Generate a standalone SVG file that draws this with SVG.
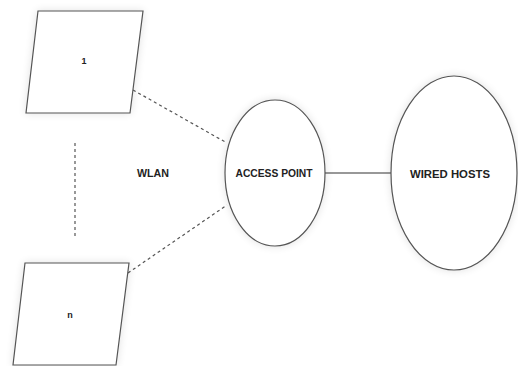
<svg xmlns="http://www.w3.org/2000/svg" width="518" height="366" viewBox="0 0 518 366">
<defs>
<filter id="sh" x="-20%" y="-20%" width="140%" height="140%">
<feGaussianBlur in="SourceAlpha" stdDeviation="4"/>
<feComponentTransfer><feFuncA type="linear" slope="0.12"/></feComponentTransfer>
<feMerge><feMergeNode/><feMergeNode in="SourceGraphic"/></feMerge>
</filter>
</defs>
<style>
.shape{fill:#fff;stroke:#555;stroke-width:1.2;filter:url(#sh)}
.lbl{font-family:"Liberation Sans",Arial,sans-serif;font-weight:bold;fill:#222;text-anchor:middle;dominant-baseline:central}
.dash{stroke:#555;stroke-width:1.2;fill:none;stroke-dasharray:3,3}
.solid{stroke:#333;stroke-width:1.2;fill:none}
</style>
<rect width="518" height="366" fill="#fff"/>
<g id="connectors">
<line class="dash" x1="133" y1="90" x2="227" y2="143"/>
<line class="dash" x1="128" y1="273" x2="227" y2="205"/>
<line class="dash" x1="75" y1="143" x2="75" y2="237" stroke-dasharray="2,4"/>
<line class="solid" x1="325" y1="173" x2="391" y2="173"/>
</g>
<g id="node-1">
<polygon class="shape" points="38,11 143,11 130,113 26,113"/>
<text class="lbl" x="84" y="61" font-size="9" font-weight="normal">1</text>
</g>
<g id="node-n">
<polygon class="shape" points="25,263 129,263 116,365 13,365"/>
<text class="lbl" x="70" y="315" font-size="9" font-weight="normal">n</text>
</g>
<g id="wlan">
<text class="lbl" x="153" y="173" font-size="10" textLength="32" lengthAdjust="spacingAndGlyphs">WLAN</text>
</g>
<g id="access-point">
<ellipse class="shape" cx="275" cy="173" rx="50" ry="73"/>
<text class="lbl" x="274" y="173" font-size="11" textLength="77" lengthAdjust="spacingAndGlyphs">ACCESS POINT</text>
</g>
<g id="wired-hosts">
<ellipse class="shape" cx="454" cy="173" rx="63" ry="97"/>
<text class="lbl" x="450" y="174" font-size="11" textLength="80" lengthAdjust="spacingAndGlyphs">WIRED HOSTS</text>
</g>
</svg>
